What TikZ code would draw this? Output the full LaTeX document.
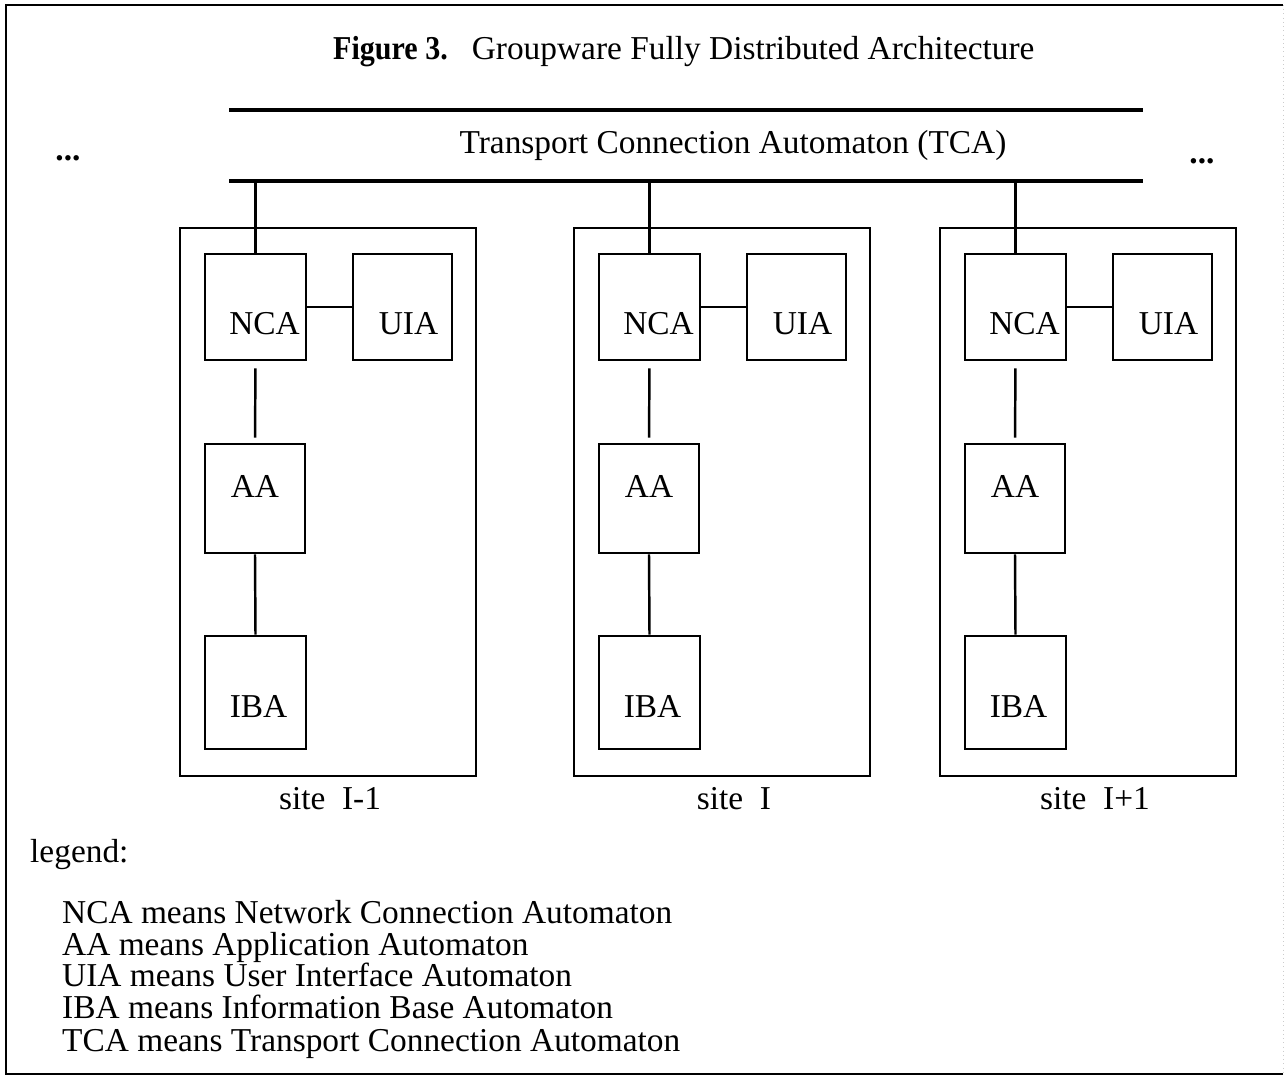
\documentclass[tikz,border=0pt]{standalone}
\usepackage{fontspec}
\usepackage{graphicx}
\setmainfont{Liberation Serif}
\usetikzlibrary{positioning}

\begin{document}
\begin{tikzpicture}[
  x=0.02cm, y=-0.02cm,
  every node/.style={font=\fontsize{19}{22}\selectfont},
  site/.style={draw, line width=1.5pt, minimum width=5.92cm, minimum height=10.96cm, inner sep=0pt},
  unit/.style={draw, line width=1.5pt, minimum width=2cm, minimum height=2.12cm, inner sep=0pt},
  link/.style={line width=1.4pt},
  bus/.style={line width=2.1pt}
  ]
\useasboundingbox (0,0) rectangle (1285,1076);

% cadre
\draw[line width=1.5pt] (1283,1074) -- (6,1074) -- (6,5) -- (1283,5);
\draw[gray!40, dotted] (1283,5) -- (1283,1074);

% titre
\node[anchor=base west] (title) at (327,59) {\scalebox{0.9}[1]{\textbf{Figure 3.}}\hspace{0.48cm}Groupware Fully Distributed Architecture};

% bus TCA
\coordinate (tcaTL) at (229,110);
\coordinate (tcaTR) at (1143,110);
\coordinate (tcaBL) at (229,181);
\coordinate (tcaBR) at (1143,181);
\draw[bus] (tcaTL) -- (tcaTR);
\draw[bus] (tcaBL) -- (tcaBR);
\node[anchor=base] (tca) at (733,153) {Transport Connection Automaton (TCA)};
\node[anchor=base] (dotsL) at (68,160) {\textbf{...}};
\node[anchor=base] (dotsR) at (1202,163) {\textbf{...}};

% sites
\foreach \s/\dx/\lx/\txt in {a/0/330/site~~I-1, b/394/734/site~~I, c/760/1095/site~~I+1} {
  \node[site] (site\s) at (328+\dx,502) {};
  \node[unit, minimum width=2.02cm, label={[xshift=0.18cm, yshift=-0.34cm]center:NCA}] (nca\s) at (255.5+\dx,307) {};
  \node[unit, minimum width=1.98cm, label={[xshift=0.12cm, yshift=-0.34cm]center:UIA}] (uia\s) at (402.5+\dx,307) {};
  \node[unit, minimum height=2.18cm, label={[yshift=0.25cm]center:AA}] (aa\s) at (255+\dx,498.5) {};
  \node[unit, minimum width=2.02cm, minimum height=2.26cm, label={[xshift=0.06cm, yshift=-0.28cm]center:IBA}] (iba\s) at (255.5+\dx,692.5) {};
  \draw[link] (nca\s.north) -- (nca\s.north |- tcaBL);
  \draw[link] (nca\s.east) -- (uia\s.west);
  \draw[link, shorten <=0.14cm, shorten >=0.1cm] (nca\s.south) -- (aa\s.north);
  \draw[link] (aa\s.south) -- (iba\s.north);
  \node[anchor=base] (name\s) at (\lx,809) {\txt};
}

% legende
\node[anchor=base west] (legend) at (24,862) {legend:};
\node[anchor=base west] (leg1) at (56,923) {NCA means Network Connection Automaton};
\node[anchor=base west] (leg2) at (56,955) {AA means Application Automaton};
\node[anchor=base west] (leg3) at (56,986) {UIA means User Interface Automaton};
\node[anchor=base west] (leg4) at (56,1018) {IBA means Information Base Automaton};
\node[anchor=base west] (leg5) at (56,1051) {TCA means Transport Connection Automaton};

\end{tikzpicture}
\end{document}
